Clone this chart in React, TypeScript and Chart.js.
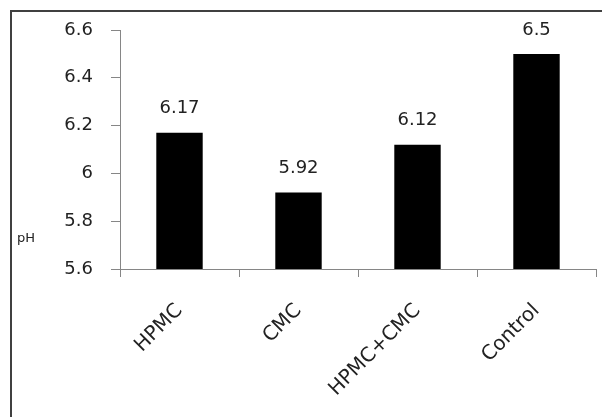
import React, { useEffect, useRef } from "react";
import { Chart, registerables } from "chart.js";

Chart.register(...registerables);

const categories = ["HPMC", "CMC", "HPMC+CMC", "Control"];
const phValues = [6.17, 5.92, 6.12, 6.5];
const yTickValues = [5.6, 5.8, 6.0, 6.2, 6.4, 6.6];
const yAxisTitle = "pH";

const FONT = "'DejaVu Sans', Verdana, sans-serif";

export default function App() {
  const ref = useRef<HTMLCanvasElement | null>(null);

  useEffect(() => {
    document.body.style.margin = "0";
    const canvas = ref.current!;
    const extras = {
      id: "extras",
      afterDraw(chart: any) {
        const ctx = chart.ctx;
        ctx.save();
        // frame (left + top)
        ctx.fillStyle = "#404040";
        ctx.fillRect(10, 10, 2, 417);
        ctx.fillRect(10, 10, 602, 2);
        // value labels
        const meta = chart.getDatasetMeta(0);
        ctx.fillStyle = "#222";
        ctx.font = `18px ${FONT}`;
        ctx.textAlign = "center";
        ctx.textBaseline = "middle";
        meta.data.forEach((bar: any, i: number) => {
          ctx.fillText(String(phValues[i]), bar.x, bar.y - 24);
        });
        // axis title (horizontal)
        ctx.font = `13px ${FONT}`;
        ctx.textAlign = "left";
        ctx.fillText(yAxisTitle, 17, 239);
        ctx.restore();
      },
    };
    const chart = new Chart(canvas, {
      type: "bar",
      data: {
        labels: categories,
        datasets: [
          {
            data: phValues,
            backgroundColor: "#000",
            borderColor: "#000",
            borderWidth: 0,
            barPercentage: 1,
            categoryPercentage: 0.39,
          },
        ],
      },
      plugins: [extras],
      options: {
        animation: false,
        responsive: false,
        maintainAspectRatio: false,
        layout: { padding: { left: 0, right: 6, top: 30, bottom: 0 } },
        plugins: { legend: { display: false }, tooltip: { enabled: false } },
        scales: {
          x: {
            afterFit(scale: any) {
              scale.height = 148;
            },
            grid: {
              offset: true,
              drawOnChartArea: false,
              drawTicks: true,
              tickLength: 8,
              color: "#868686",
            },
            border: { color: "#868686", width: 1 },
            ticks: {
              color: "#222",
              font: { family: FONT, size: 20 },
              minRotation: 45,
              maxRotation: 45,
              padding: 22,
              autoSkip: false,
            },
          },
          y: {
            min: 5.6,
            max: 6.6,
            afterFit(scale: any) {
              scale.width = 120;
            },
            afterBuildTicks(scale: any) {
              scale.ticks = yTickValues.map((v) => ({ value: v }));
            },
            grid: {
              drawOnChartArea: false,
              drawTicks: true,
              tickLength: 9,
              color: "#868686",
            },
            border: { color: "#868686", width: 1 },
            ticks: {
              color: "#222",
              font: { family: FONT, size: 18 },
              padding: 18,
              callback: (v: any) => String(Math.round(Number(v) * 10) / 10),
            },
          },
        },
      },
    });
    return () => chart.destroy();
  }, []);

  return (
    <div style={{ position: "absolute", left: 0, top: 0, width: 602, height: 417, background: "#fff" }}>
      <canvas ref={ref} width={602} height={417} style={{ width: 602, height: 417 }} />
    </div>
  );
}
